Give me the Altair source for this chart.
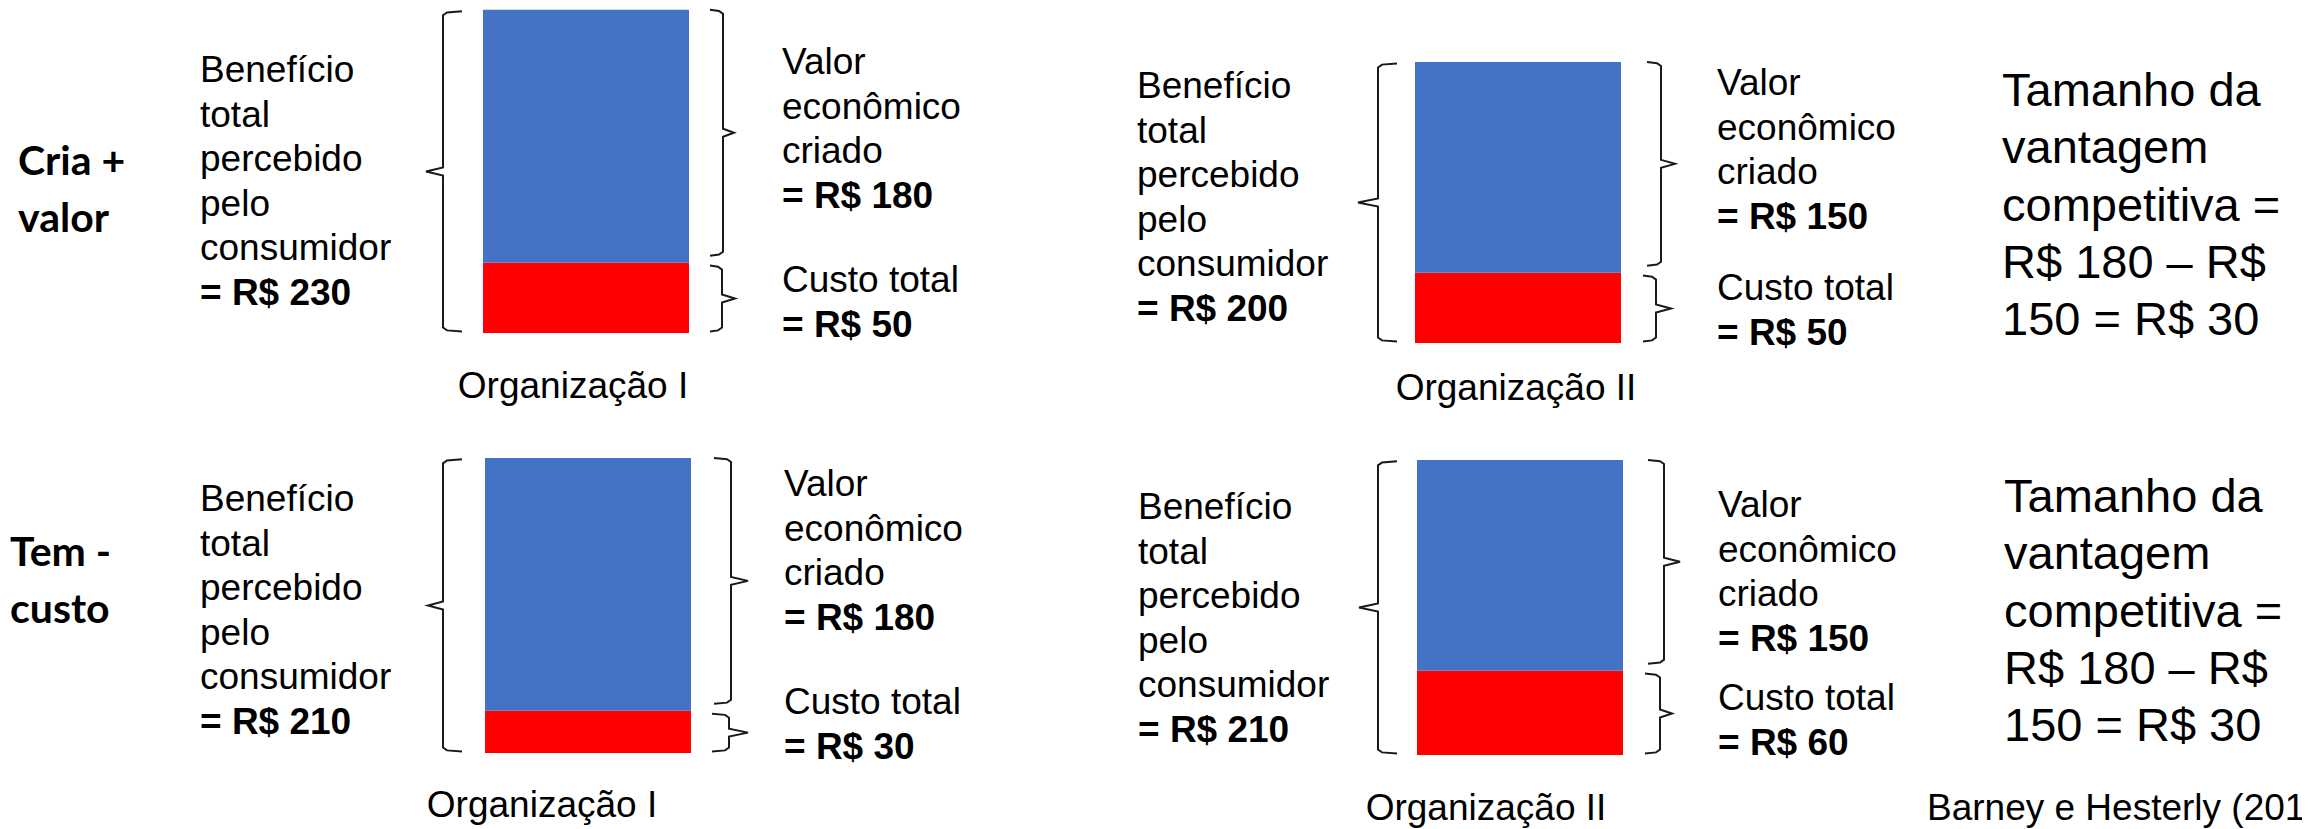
import altair as alt
import pandas as pd

# ---------------- data ----------------
panel_ids = ["TL", "TR", "BL", "BR"]
org_labels = ["Organização I", "Organização II", "Organização I", "Organização II"]
valor_criado = [180, 150, 180, 150]        # R$ valor econômico criado
custo_total = [50, 50, 30, 60]             # R$ custo total
beneficio_total = [230, 200, 210, 210]     # R$ benefício total percebido
row_labels = [["Cria +", "valor"], ["Tem -", "custo"]]
benef_lines = ["Benefício", "total", "percebido", "pelo", "consumidor"]
valor_lines = ["Valor", "econômico", "criado"]
custo_lines = ["Custo total"]
vantagem_lines = ["Tamanho da", "vantagem", "competitiva =", "R$ 180 – R$", "150 = R$ 30"]
fonte = "Barney e Hesterly (2011)"

# ---------------- layout / style ----------------
BLUE, RED, INK = "#4472C4", "#FF0000", "#1a1a1a"
M = 8            # page margin
K = 1.405        # pixels per R$
W, H = 2294, 821
FONT = "Liberation Sans"

layout = {
    "TL": dict(bar=(483, 689), bottom=333, lb=(462, 443, 426), rv=(710, 723, 734), rc=(710, 722, 735),
               benef=(200, 82), valor=(782, 74), custo=(782, 292), org=(573, 398)),
    "TR": dict(bar=(1415, 1621), bottom=343, lb=(1397, 1378, 1358), rv=(1647, 1661, 1675), rc=(1643, 1656, 1671),
               benef=(1137, 98), valor=(1717, 95), custo=(1717, 300), org=(1516, 400)),
    "BL": dict(bar=(485, 691), bottom=753, lb=(462, 443, 428), rv=(714, 731, 748), rc=(712, 729, 748),
               benef=(200, 511), valor=(784, 496), custo=(784, 714), org=(542, 817)),
    "BR": dict(bar=(1417, 1623), bottom=755, lb=(1397, 1378, 1359), rv=(1648, 1664, 1680), rc=(1645, 1660, 1672),
               benef=(1138, 519), valor=(1718, 517), custo=(1718, 710), org=(1486, 820)),
}
LH = 44.6

layers = []
color_scale = alt.Scale(domain=["Custo total", "Valor econômico criado"], range=[RED, BLUE])

for i, p in enumerate(panel_ids):
    L = layout[p]
    val, cost = valor_criado[i], custo_total[i]
    total = beneficio_total[i]
    ysc = alt.Scale(domain=[0, 250], range=[L["bottom"] - M, L["bottom"] - M - 250 * K], nice=False, zero=False)

    bars = pd.DataFrame({
        "parte": ["Custo total", "Valor econômico criado"],
        "lo": [0, cost],
        "hi": [cost, cost + val],
    })
    layers.append(
        alt.Chart(bars).mark_bar().encode(
            x=alt.value(L["bar"][0] - M), x2=alt.value(L["bar"][1] - M),
            y=alt.Y("lo:Q", scale=ysc, axis=None), y2="hi:Q",
            color=alt.Color("parte:N", scale=color_scale, legend=None),
        )
    )

    # braces spanning data ranges
    d, e = 4 / K, 1.2 / K
    spans = {"lb": (1, total - 1), "rv": (cost + 5, total), "rc": (1, cost - 2)}
    rows = []
    for bid, (y0, y1) in spans.items():
        hook, vert, tip = L[bid]
        s = 1 if hook > vert else -1
        mid = (y0 + y1) / 2
        pts = [(hook, y1), (vert + s * 4, y1 - e), (vert, y1 - d), (vert, mid + d), (tip, mid),
               (vert, mid - d), (vert, y0 + d), (vert + s * 4, y0 + e), (hook, y0)]
        for k, (px, v) in enumerate(pts):
            rows.append({"bid": p + bid, "seq": k, "px": px - M, "v": v})
    layers.append(
        alt.Chart(pd.DataFrame(rows)).mark_line(color=INK, strokeWidth=2).encode(
            x=alt.X("px:Q", scale=None, axis=None),
            y=alt.Y("v:Q", scale=ysc, axis=None),
            detail="bid:N", order="seq:Q",
        )
    )

# ---------------- text ----------------
normal, bold, big, rowlab, center = [], [], [], [], []
for i, p in enumerate(panel_ids):
    L = layout[p]
    bx, by = L["benef"]
    for j, t in enumerate(benef_lines):
        normal.append({"t": t, "px": bx - M, "py": by + j * LH - M})
    bold.append({"t": f"= R$ {beneficio_total[i]}", "px": bx - M, "py": by + len(benef_lines) * LH - M})
    vx, vy = L["valor"]
    for j, t in enumerate(valor_lines):
        normal.append({"t": t, "px": vx - M, "py": vy + j * LH - M})
    bold.append({"t": f"= R$ {valor_criado[i]}", "px": vx - M, "py": vy + len(valor_lines) * LH - M})
    cx, cy = L["custo"]
    for j, t in enumerate(custo_lines):
        normal.append({"t": t, "px": cx - M, "py": cy + j * LH - M})
    bold.append({"t": f"= R$ {custo_total[i]}", "px": cx - M, "py": cy + len(custo_lines) * LH - M})
    ox, oy = L["org"]
    center.append({"t": org_labels[i], "px": ox - M, "py": oy - M})

row_pos = [(18, 175), (10, 566)]
for (rx, ry), lines in zip(row_pos, row_labels):
    for j, t in enumerate(lines):
        rowlab.append({"t": t, "px": rx - M, "py": ry + j * 57 - M})

for (tx, ty) in [(2002, 106), (2004, 512)]:
    for j, t in enumerate(vantagem_lines):
        big.append({"t": t, "px": tx - M, "py": ty + j * 57.3 - M})
normal.append({"t": fonte, "px": 1927 - M, "py": 820 - M})


def text_layer(rows, **kw):
    return alt.Chart(pd.DataFrame(rows)).mark_text(baseline="alphabetic", color="black", **kw).encode(
        x=alt.X("px:Q", scale=None, axis=None),
        y=alt.Y("py:Q", scale=None, axis=None),
        text="t:N",
    )


layers += [
    text_layer(normal, font=FONT, fontSize=37, align="left"),
    text_layer(bold, font=FONT, fontSize=37, fontWeight="bold", align="left"),
    text_layer(center, font=FONT, fontSize=37, align="center"),
    text_layer(big, font=FONT, fontSize=47, align="left"),
    text_layer(rowlab, font="Lato", fontSize=41, fontWeight="bold", align="left"),
]

chart = alt.layer(*layers).resolve_scale(y="independent").properties(
    width=W, height=H, padding=0, autosize=alt.AutoSizeParams(type="none"), background="white"
).configure_view(stroke=None)

chart.save("out.html", embed_options={"renderer": "svg", "actions": False})
